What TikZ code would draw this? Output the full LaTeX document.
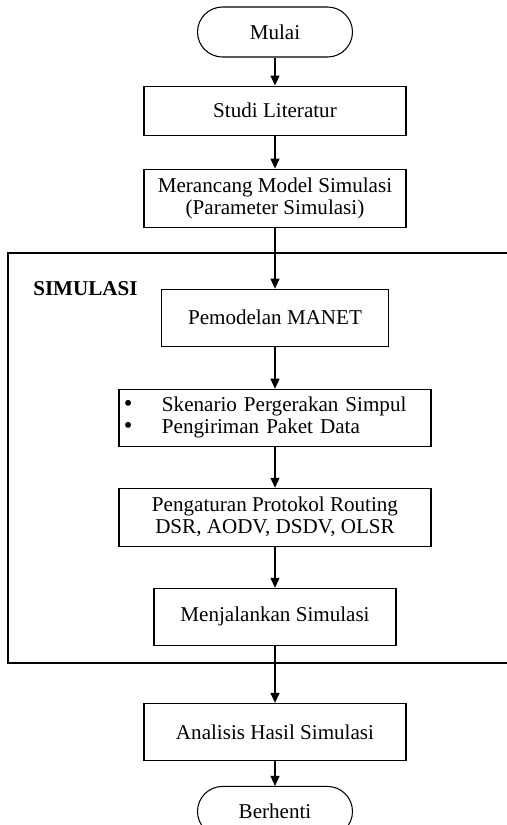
\documentclass[tikz,border=0pt]{standalone}
\usepackage{fontspec}
\setmainfont{Liberation Serif}
\usetikzlibrary{arrows.meta,positioning}

\newcommand{\bulletitem}{\makebox[0.76cm][l]{\fontsize{14}{12.5}\selectfont\textbullet}}

\begin{document}
\begin{tikzpicture}[
    font=\fontsize{12}{12.5}\selectfont,
    box/.style={draw, line width=0.6pt, align=center, inner sep=2pt},
    terminal/.style={box, rounded corners=0.5cm, minimum width=3.1cm, minimum height=1cm},
    process/.style={box, minimum height=1.14cm},
    arrow/.style={-{Triangle[length=2mm,width=1.8mm]}, line width=0.7pt}
]
  \useasboundingbox (-5.5,0.64) rectangle (4.64,-15.86);
  \clip (-5.5,0.64) rectangle (4.64,-15.86);

  \node[terminal] (mulai) at (0,0) {Mulai};
  \node[process, below=0.56cm of mulai, minimum width=5.24cm, minimum height=0.98cm] (studi) {Studi Literatur};
  \node[process, below=0.66cm of studi, minimum width=5.24cm, minimum height=1.16cm] (rancang) {Merancang Model Simulasi\\(Parameter Simulasi)};
  \node[process, below=1.22cm of rancang, minimum width=4.54cm] (manet) {Pemodelan MANET};
  \node[process, below=0.84cm of manet, minimum width=6.24cm, text width=6.04cm, align=left, inner xsep=0.1cm] (skenario) {\bulletitem Skenario Pergerakan Simpul\\\bulletitem Pengiriman Paket Data};
  \node[process, below=0.82cm of skenario, minimum width=6.24cm, minimum height=1.16cm] (routing) {Pengaturan Protokol Routing\\DSR, AODV, DSDV, OLSR};
  \node[process, below=0.82cm of routing, minimum width=4.84cm] (jalan) {Menjalankan Simulasi};
  \node[process, below=1.14cm of jalan, minimum width=5.24cm] (analisis) {Analisis Hasil Simulasi};
  \node[terminal, below=0.5cm of analisis] (berhenti) {Berhenti};

  % kotak simulasi
  \coordinate (simNW) at (-5.34,-4.42);
  \coordinate (simSE) at (5.2,-12.62);
  \draw[line width=0.9pt] (simNW) rectangle (simSE);
  \node[font=\fontsize{12}{12.5}\selectfont\bfseries, inner sep=0pt, left=0.46cm of manet.north west] (simlabel) {SIMULASI};

  \draw[arrow] (mulai) -- (studi);
  \draw[arrow] (studi) -- (rancang);
  \draw[arrow] (rancang) -- (manet);
  \draw[arrow] (manet) -- (skenario);
  \draw[arrow] (skenario) -- (routing);
  \draw[arrow] (routing) -- (jalan);
  \draw[arrow] (jalan) -- (analisis);
  \draw[arrow] (analisis) -- (berhenti);
\end{tikzpicture}
\end{document}
